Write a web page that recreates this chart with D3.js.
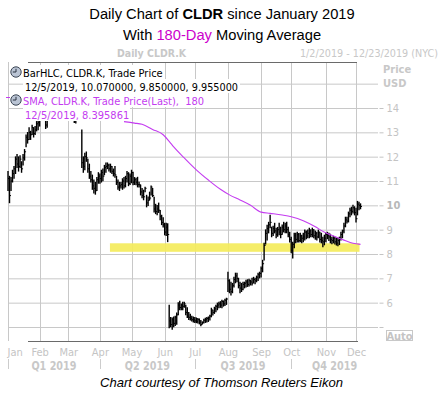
<!DOCTYPE html>
<html>
<head>
<meta charset="utf-8">
<script src="https://cdn.jsdelivr.net/npm/d3@7"></script>
<style>
  body { margin: 0; background: #fff; }
  svg { display: block; }
  text { font-family: "DejaVu Sans Condensed", "DejaVu Sans", Tahoma, sans-serif; }
</style>
</head>
<body>
<svg id="chart" width="446" height="398"></svg>
<script>
// exchange holidays, used to build the trading-day categories
const holidays = ["2019-01-01", "2019-01-21", "2019-02-18", "2019-04-19", "2019-05-27",
  "2019-07-04", "2019-09-02", "2019-11-28", "2019-12-25"]

// daily bars, Jan 2 .. Dec 5 2019
const highs = [
  // Jan
  11.40, 11.20, 11.15, 11.45, 11.60, 12.00, 12.10, 12.00, 12.05, 11.80, 12.10, 12.30, 12.90, 13.00, 13.20, 13.05, 13.30, 13.20, 13.25, 13.45, 13.50,
  // Feb
  14.00, 14.20, 14.10, 13.90, 13.70, 13.60, 14.00, 14.30, 14.50, 14.40, 14.60, 14.80, 14.90, 14.70, 14.60, 14.80, 14.50, 14.40, 14.30,
  // Mar
  14.20, 14.10, 13.90, 13.80, 13.70, 13.60, 13.90, 14.00, 13.90, 13.10, 12.00, 12.15, 12.20, 11.90, 11.70, 11.40, 11.25, 11.05, 10.95, 11.15, 11.35,
  // Apr
  11.30, 11.45, 11.50, 11.65, 11.75, 11.75, 11.70, 11.70, 11.60, 11.50, 11.60, 11.20, 11.05, 10.95, 10.95, 11.10, 11.15, 11.20, 11.40, 11.35, 11.30,
  // May
  11.45, 11.37, 11.15, 11.12, 11.16, 10.96, 10.84, 10.70, 10.63, 10.75, 10.42, 10.35, 10.55, 10.80, 10.70, 10.34, 10.05, 10.00, 10.10, 9.80, 9.60, 9.50,
  // Jun
  9.27, 9.27, 9.25, 5.90, 5.40, 5.38, 5.42, 5.45, 5.58, 6.00, 6.07, 5.95, 6.03, 6.03, 5.90, 5.80, 5.60, 5.53, 5.45, 5.42,
  // Jul
  5.40, 5.38, 5.36, 5.34, 5.28, 5.22, 5.33, 5.37, 5.40, 5.42, 5.49, 5.78, 5.70, 5.82, 5.90, 5.99, 6.03, 6.05, 6.11, 6.08, 6.15, 6.19,
  // Aug
  7.26, 6.95, 6.85, 6.80, 7.05, 7.22, 7.22, 7.01, 6.85, 6.80, 6.85, 6.85, 6.93, 6.95, 6.97, 6.93, 7.01, 7.05, 7.01, 7.10, 7.22, 7.26,
  // Sep
  7.47, 7.75, 8.45, 9.00, 9.19, 9.31, 9.60, 9.11, 9.15, 9.27, 9.07, 9.10, 9.27, 9.11, 9.20, 9.31, 9.27, 9.31, 9.11, 8.90,
  // Oct
  8.70, 8.49, 8.86, 8.86, 8.90, 8.85, 8.86, 8.78, 8.86, 8.99, 8.95, 8.99, 9.07, 9.00, 9.07, 9.00, 8.95, 8.90, 8.99, 8.90, 8.86, 8.70, 8.78,
  // Nov
  8.86, 8.90, 8.86, 8.82, 8.70, 8.74, 8.70, 8.66, 8.66, 8.70, 8.90, 8.99, 9.27, 9.52, 9.52, 9.73, 9.89, 9.93, 10.01, 9.95,
  // Dec
  9.89, 10.17, 10.13, 10.07
]
const lows = [
  10.60, 10.10, 10.60, 10.95, 11.10, 11.30, 11.55, 11.40, 11.55, 11.35, 11.65, 11.85, 12.40, 12.55, 12.70, 12.70, 12.90, 12.80, 12.90, 13.05, 13.10,
  13.25, 13.60, 13.60, 13.50, 13.15, 13.20, 13.55, 13.80, 14.00, 13.90, 14.00, 14.30, 14.40, 14.20, 14.10, 14.20, 14.00, 13.90, 13.80,
  13.70, 13.60, 13.55, 13.50, 13.40, 13.38, 13.50, 13.60, 13.50, 11.55, 11.35, 11.45, 11.80, 11.35, 11.10, 10.95, 10.65, 10.50, 10.45, 10.60, 10.90,
  10.90, 10.95, 11.00, 11.25, 11.35, 11.50, 11.40, 11.35, 11.30, 11.20, 11.15, 10.85, 10.65, 10.60, 10.70, 10.65, 10.70, 10.75, 10.95, 10.80, 10.85,
  10.92, 10.84, 10.85, 10.84, 10.75, 10.75, 10.42, 10.30, 10.22, 10.55, 9.93, 9.98, 10.22, 10.42, 10.35, 9.72, 9.65, 9.60, 9.70, 9.40, 9.20, 9.10,
  8.78, 8.75, 8.50, 4.96, 5.00, 4.90, 5.00, 5.05, 5.10, 5.50, 5.70, 5.70, 5.70, 5.80, 5.50, 5.38, 5.30, 5.28, 5.24, 5.20,
  5.18, 5.17, 5.16, 5.12, 5.04, 5.12, 5.16, 5.18, 5.20, 5.22, 5.28, 5.41, 5.49, 5.55, 5.62, 5.70, 5.78, 5.80, 5.78, 5.85, 5.88, 5.92,
  6.45, 6.40, 6.31, 6.40, 6.64, 6.81, 6.85, 6.60, 6.40, 6.45, 6.52, 6.60, 6.64, 6.66, 6.68, 6.72, 6.72, 6.81, 6.77, 6.85, 6.90, 7.01,
  7.05, 7.26, 7.75, 8.40, 8.57, 8.86, 9.07, 8.70, 8.75, 8.86, 8.66, 8.72, 8.78, 8.66, 8.80, 8.90, 8.86, 8.86, 8.70, 8.49,
  8.04, 7.83, 8.25, 8.45, 8.49, 8.48, 8.50, 8.45, 8.50, 8.57, 8.62, 8.66, 8.66, 8.70, 8.70, 8.66, 8.60, 8.57, 8.66, 8.49, 8.45, 8.29, 8.37,
  8.50, 8.62, 8.55, 8.45, 8.41, 8.45, 8.40, 8.36, 8.33, 8.38, 8.57, 8.66, 8.86, 9.11, 9.27, 9.31, 9.52, 9.60, 9.68, 9.60,
  9.31, 9.60, 9.81, 9.85
]
const closes = [
  11.10, 10.40, 11.00, 11.30, 11.50, 11.90, 11.70, 11.60, 11.90, 11.50, 11.95, 12.20, 12.80, 12.70, 13.00, 12.90, 13.20, 12.95, 13.10, 13.35, 13.40,
  13.80, 14.00, 13.70, 13.60, 13.30, 13.50, 13.90, 14.20, 14.30, 14.10, 14.50, 14.60, 14.70, 14.40, 14.50, 14.30, 14.20, 14.10, 14.00,
  14.00, 13.80, 13.70, 13.60, 13.50, 13.50, 13.80, 13.70, 13.70, 11.75, 11.60, 12.00, 11.95, 11.50, 11.20, 11.05, 10.80, 10.70, 10.60, 11.05, 11.20,
  11.10, 11.35, 11.20, 11.55, 11.60, 11.65, 11.50, 11.60, 11.40, 11.30, 11.25, 10.95, 10.75, 10.80, 10.85, 11.00, 10.80, 11.10, 11.30, 10.90, 11.20,
  11.35, 10.95, 11.05, 10.95, 10.85, 10.85, 10.55, 10.40, 10.35, 10.70, 10.10, 10.20, 10.30, 10.75, 10.40, 9.85, 9.75, 9.85, 9.80, 9.55, 9.30, 9.20,
  8.90, 9.10, 8.80, 5.25, 5.10, 5.30, 5.15, 5.40, 5.50, 5.90, 5.80, 5.90, 5.85, 5.95, 5.60, 5.45, 5.40, 5.35, 5.30, 5.30,
  5.25, 5.22, 5.30, 5.20, 5.10, 5.18, 5.28, 5.30, 5.35, 5.38, 5.45, 5.70, 5.60, 5.75, 5.85, 5.90, 5.95, 5.90, 6.05, 5.95, 6.10, 6.15,
  6.90, 6.55, 6.45, 6.70, 6.95, 7.10, 7.00, 6.70, 6.60, 6.55, 6.75, 6.80, 6.85, 6.75, 6.90, 6.85, 6.80, 6.95, 6.90, 7.05, 7.15, 7.20,
  7.40, 7.60, 8.35, 8.85, 9.05, 9.20, 9.30, 8.85, 9.05, 8.95, 8.80, 9.00, 8.90, 8.80, 9.10, 9.00, 9.15, 9.00, 8.80, 8.60,
  8.15, 8.40, 8.75, 8.60, 8.80, 8.55, 8.75, 8.65, 8.70, 8.90, 8.75, 8.85, 8.95, 8.80, 9.00, 8.75, 8.85, 8.70, 8.90, 8.60, 8.55, 8.50, 8.65,
  8.80, 8.75, 8.70, 8.60, 8.55, 8.65, 8.50, 8.45, 8.55, 8.65, 8.80, 8.95, 9.15, 9.40, 9.35, 9.65, 9.80, 9.75, 9.90, 9.70,
  9.45, 10.05, 10.00, 9.955
]

// 180-day moving average, read at points along the curve
const smaDates = ["2019-04-24", "2019-05-03", "2019-05-10", "2019-05-21", "2019-05-31", "2019-06-06",
  "2019-06-11", "2019-06-20", "2019-07-02", "2019-07-15", "2019-07-25", "2019-08-02", "2019-08-13",
  "2019-08-22", "2019-09-03", "2019-09-11", "2019-09-23", "2019-10-01", "2019-10-11", "2019-10-23",
  "2019-10-30", "2019-11-08", "2019-11-19", "2019-11-27", "2019-12-05"]
const smaValues = [13.44, 13.38, 13.33, 13.12, 12.90, 12.63, 12.40, 11.95, 11.46, 11.04, 10.66, 10.43, 10.22,
  10.00, 9.72, 9.67, 9.60, 9.53, 9.37, 9.12, 8.93, 8.74, 8.57, 8.44, 8.395861]

// support zone
const bandDates = ["2019-04-10", "2019-12-04"]
const bandPrices = [8.09, 8.44]

const priceTicks = [5, 6, 7, 8, 9, 10, 11, 12, 13, 14, 15]
const monthNames = ["Jan", "Feb", "Mar", "Apr", "May", "Jun", "Jul", "Aug", "Sep", "Oct", "Nov", "Dec"]
const quarterNames = ["Q1 2019", "Q2 2019", "Q3 2019", "Q4 2019"]

// trading days
const fmt = d3.utcFormat("%Y-%m-%d")
const dates = []
for (let d = new Date(Date.UTC(2019, 0, 2)); dates.length < highs.length; d = d3.utcDay.offset(d, 1)) {
  const s = fmt(d), wd = d.getUTCDay()
  if (wd > 0 && wd < 6 && !holidays.includes(s)) dates.push(s)
}
const bars = dates.map((d, i) => ({ date: d, high: highs[i], low: lows[i], close: closes[i] }))
const sma = smaDates.map((d, i) => ({ date: d, value: smaValues[i] }))

const svg = d3.select("#chart")
const grey = "#c4c4c4"
const magenta = "#c43cf0"

var x = d3.scalePoint().domain(dates).range([8, 8 + (dates.length - 1) * 1.5065])
var y = d3.scaleLinear().domain([5, 14]).range([327, 108])

// first trading day of each month
const monthStarts = dates.filter((d, i) => i == 0 || d.slice(5, 7) != dates[i - 1].slice(5, 7))

function fit(sel, w) {
  sel.each(function() {
    const L = this.getComputedTextLength()
    if (Math.abs(L - w) > 1.5) d3.select(this).attr("textLength", w).attr("lengthAdjust", "spacingAndGlyphs")
  })
}

// GRID
svg.append("g")
  .attr("transform", "translate(8,0)")
  .call(d3.axisLeft(y).tickValues(priceTicks).tickSize(-370).tickFormat(""))
  .call(g => g.select(".domain").remove())
  .selectAll("line").attr("stroke", "#c8c8c8")

svg.append("g").selectAll("line")
  .data(monthStarts)
  .enter().append("line")
  .attr("x1", d => Math.round(x(d)) + 0.5).attr("x2", d => Math.round(x(d)) + 0.5)
  .attr("y1", 62).attr("y2", 341)
  .attr("stroke", "#c8c8c8")

// right price axis
var yAxis = svg.append("g")
  .attr("transform", "translate(379.5,0)")
  .call(d3.axisRight(y).tickValues(priceTicks).tickSize(4).tickPadding(3)
    .tickFormat(d => (d >= 6 && d <= 14) ? d : ""))
yAxis.select(".domain").remove()
yAxis.selectAll("line").attr("stroke", grey)
yAxis.selectAll("line").filter(d => d == 15).remove()
yAxis.selectAll("text")
  .attr("fill", grey).style("font-size", "11px")
  .filter(d => d == 10).attr("font-weight", "bold").attr("fill", "#b8b8b8")

// support band
svg.append("rect")
  .attr("x", x(bandDates[0]) - 0.5)
  .attr("width", x(bandDates[1]) - x(bandDates[0]) + 1)
  .attr("y", y(bandPrices[1]))
  .attr("height", y(bandPrices[0]) - y(bandPrices[1]))
  .attr("fill", "#f4ec5c").attr("fill-opacity", 0.92)

// BARS (HLC)
var barG = svg.append("g").attr("stroke", "#000")
barG.selectAll(".hl")
  .data(bars)
  .enter().append("line")
  .attr("class", "hl")
  .attr("x1", d => x(d.date)).attr("x2", d => x(d.date))
  .attr("y1", d => y(d.high) - 0.3).attr("y2", d => y(d.low) + 0.3)
  .attr("stroke-width", 1.4)
barG.selectAll(".cl")
  .data(bars)
  .enter().append("line")
  .attr("class", "cl")
  .attr("x1", d => x(d.date)).attr("x2", d => x(d.date) + 1.5)
  .attr("y1", d => y(d.close)).attr("y2", d => y(d.close))
  .attr("stroke-width", 1)

// SMA
svg.append("path")
  .datum(sma)
  .attr("fill", "none")
  .attr("stroke", magenta)
  .attr("stroke-width", 1.1)
  .attr("d", d3.line().x(d => x(d.date)).y(d => y(d.value)).curve(d3.curveMonotoneX))

// frame lines
svg.append("line").attr("x1", 28).attr("x2", 357).attr("y1", 62.5).attr("y2", 62.5)
  .attr("stroke", "#6a6a6a").attr("stroke-width", 1.2)
svg.append("line").attr("x1", 28).attr("x2", 358).attr("y1", 341.5).attr("y2", 341.5)
  .attr("stroke", "#6a6a6a").attr("stroke-width", 1.2)

// X AXIS
var xAxis = svg.append("g")
  .attr("transform", "translate(0,341)")
  .call(d3.axisBottom(x).tickValues(monthStarts).tickSize(0).tickPadding(7)
    .tickFormat(d => monthNames[+d.slice(5, 7) - 1]))
xAxis.select(".domain").remove()
xAxis.selectAll("text").attr("fill", grey).style("font-size", "11px")
xAxis.selectAll("text").filter((d, i) => i == 0).attr("text-anchor", "start").attr("x", -1)

const qStarts = monthStarts.filter((d, i) => i % 3 == 0)
const qEdges = qStarts.map(d => x(d)).concat([378])
svg.append("g").selectAll("line")
  .data(qStarts)
  .enter().append("line")
  .attr("x1", d => Math.round(x(d)) + 0.5).attr("x2", d => Math.round(x(d)) + 0.5)
  .attr("y1", 359).attr("y2", 369)
  .attr("stroke", "#cccccc")
svg.append("g").selectAll("text")
  .data(quarterNames)
  .enter().append("text")
  .attr("x", (d, i) => (qEdges[i] + qEdges[i + 1]) / 2)
  .attr("y", 369.5)
  .attr("text-anchor", "middle")
  .attr("font-weight", "bold")
  .attr("fill", "#c8c8c8")
  .style("font-size", "11.5px")
  .text(d => d)
  .call(fit, 45)

// LEGEND (white boxes hide what is under them)
const last = bars[bars.length - 1]
const lastDate = d3.utcParse("%Y-%m-%d")(last.date)
const lastLabel = (lastDate.getUTCMonth() + 1) + "/" + lastDate.getUTCDate() + "/" + lastDate.getUTCFullYear()
const legendLines = [
  { text: "BarHLC, CLDR.K, Trade Price", color: "#000", icon: true },
  { text: lastLabel + ", " + [last.high, last.low, last.close].map(v => v.toFixed(6)).join(", "), color: "#000" },
  { text: "SMA, CLDR.K, Trade Price(Last),\u00a0 180", color: magenta, icon: true },
  { text: lastLabel + ", " + smaValues[smaValues.length - 1].toFixed(6), color: magenta }
]
const legendW = [139, 213, 181, 103]
var leg = svg.append("g")
legendLines.forEach(function(l, i) {
  var base = 76.5 + i * 14
  var tx = l.icon ? 23 : 25
  leg.append("rect")
    .attr("x", l.icon ? 9 : 23).attr("y", base - 11.5)
    .attr("width", (tx + legendW[i] + 2) - (l.icon ? 9 : 23)).attr("height", 14)
    .attr("fill", "#fff")
  if (l.icon) {
    var cy = base - 4.5
    leg.append("circle").attr("cx", 16).attr("cy", cy).attr("r", 5.2)
      .attr("fill", "#bac4d4").attr("stroke", "#3d4756").attr("stroke-width", 1)
    leg.append("path").attr("d", "M16," + (cy - 3.2) + "V" + cy + "H12.8")
      .attr("fill", "none").attr("stroke", "#2b3340").attr("stroke-width", 1)
  }
  leg.append("text")
    .attr("x", tx).attr("y", base)
    .attr("fill", l.color)
    .style("font-size", "11px")
    .text(l.text)
    .call(fit, legendW[i])
})
leg.append("line").attr("x1", 6).attr("x2", 10).attr("y1", 97.5).attr("y2", 97.5)
  .attr("stroke", magenta)

// HEADER
var title = svg.append("text")
  .attr("x", 222).attr("y", 19).attr("text-anchor", "middle")
  .style("font-family", "'Liberation Sans', Arial, sans-serif").style("font-size", "14.7px")
title.append("tspan").text("Daily Chart of ")
title.append("tspan").attr("font-weight", "bold").text("CLDR")
title.append("tspan").text(" since January 2019")
title.call(fit, 264)

var sub = svg.append("text")
  .attr("x", 222).attr("y", 39.5).attr("text-anchor", "middle")
  .style("font-family", "'Liberation Sans', Arial, sans-serif").style("font-size", "14.7px")
sub.append("tspan").text("With ")
sub.append("tspan").attr("fill", "#cc00cc").text("180-Day")
sub.append("tspan").text(" Moving Average")
sub.call(fit, 199)

svg.append("text").attr("x", 117).attr("y", 57)
  .attr("font-weight", "bold").attr("fill", "#c8c8c8").style("font-size", "11px")
  .text("Daily CLDR.K").call(fit, 69)
svg.append("text").attr("x", 300).attr("y", 57)
  .attr("fill", "#c8c8c8").style("font-size", "11px")
  .text("1/2/2019 - 12/23/2019 (NYC)").call(fit, 138)

svg.append("text").attr("x", 383).attr("y", 73)
  .attr("font-weight", "bold").attr("fill", "#c8c8c8").style("font-size", "11px")
  .text("Price").call(fit, 29)
svg.append("text").attr("x", 383).attr("y", 87)
  .attr("font-weight", "bold").attr("fill", "#c8c8c8").style("font-size", "11px")
  .text("USD").call(fit, 23)

// Auto button
svg.append("rect").attr("x", 386.5).attr("y", 330.5).attr("width", 26).attr("height", 10)
  .attr("fill", "none").attr("stroke", "#c8c8c8")
svg.append("text").attr("x", 399.5).attr("y", 339.5).attr("text-anchor", "middle")
  .attr("font-weight", "bold").attr("fill", "#c4c4c4").style("font-size", "11px")
  .text("Auto").call(fit, 25)

// credit
svg.append("text").attr("x", 221.5).attr("y", 387).attr("text-anchor", "middle")
  .style("font-family", "'Liberation Sans', Arial, sans-serif").style("font-size", "13.5px")
  .style("font-style", "italic")
  .text("Chart courtesy of Thomson Reuters Eikon").call(fit, 243)
</script>
</body>
</html>
